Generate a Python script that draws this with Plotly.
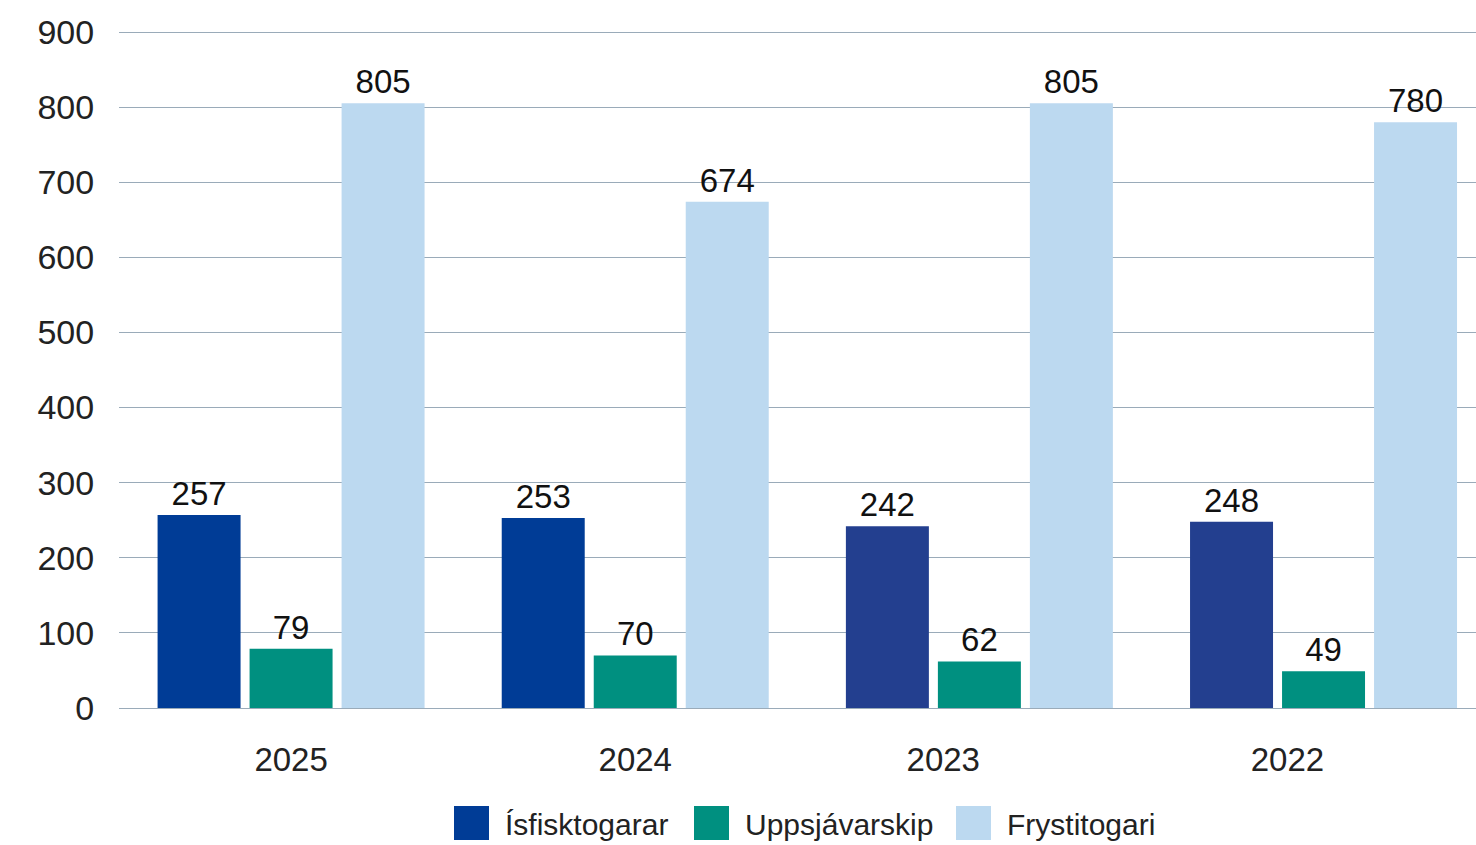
import plotly.graph_objects as go

# Ár og gildi hverrar skipategundar
years = ["2025", "2024", "2023", "2022"]
isfisk = [257, 253, 242, 248]
uppsjavar = [79, 70, 62, 49]
frysti = [805, 674, 805, 780]

# Merkimiðar x-ás (síðustu tveir liggja aðeins til vinstri í fyrirmyndinni)
tick_pos = [0, 1, 1.895, 2.895]
y_ticks = [0, 100, 200, 300, 400, 500, 600, 700, 800, 900]

series_names = ["Ísfisktogarar", "Uppsjávarskip", "Frystitogari"]
series_colors = ["#003c96", "#009080", "#bcd9f0"]

x = list(range(len(years)))
isfisk_colors = ["#003c96", "#003c96", "#233f8f", "#233f8f"]

FONT = "Liberation Sans, Arial, sans-serif"

# Teiknisvæði í punktum (til að staðsetja handgerða skýringu)
L, T, W, H = 119, 29, 1357, 679

fig = go.Figure()
for name, vals, col in zip(series_names, [isfisk, uppsjavar, frysti],
                           [isfisk_colors, series_colors[1], series_colors[2]]):
    fig.add_trace(go.Bar(
        x=x, y=vals, name=name, marker_color=col,
        text=vals, textposition="outside", cliponaxis=False, showlegend=False,
    ))

fig.update_traces(textfont=dict(size=33, color="#111111", family=FONT), marker_line_width=0)

# Skýring neðst: stórir ferningar og texti
legend_x = [454, 694, 956]
for px, name, col in zip(legend_x, series_names, series_colors):
    fig.add_shape(
        type="rect", xref="paper", yref="paper",
        x0=(px - L) / W, x1=(px + 35 - L) / W,
        y0=(T + H - 840) / H, y1=(T + H - 806) / H,
        fillcolor=col, line_width=0,
    )
    fig.add_annotation(
        xref="paper", yref="paper", x=(px + 49 - L) / W, y=(T + H - 824) / H,
        text=name, showarrow=False, xanchor="left", yanchor="middle",
        font=dict(size=30, color="#222222", family=FONT),
    )

fig.update_layout(
    width=1476, height=845,
    margin=dict(l=L, r=0, t=T, b=845 - T - H),
    paper_bgcolor="white", plot_bgcolor="white",
    barmode="group", bargap=0.198, bargroupgap=0.098,
    font=dict(family=FONT, size=34, color="#222222"),
    showlegend=False,
)
fig.update_xaxes(
    range=[-0.5, 3.443], tickvals=tick_pos, ticktext=years,
    ticks="outside", ticklen=22, tickcolor="rgba(0,0,0,0)",
    showgrid=False, zeroline=False, showline=False, automargin=False,
    tickfont=dict(size=33),
)
fig.update_yaxes(
    range=[0, 904], tickvals=y_ticks,
    showgrid=True, gridcolor="#9aabb9", gridwidth=1,
    zeroline=True, zerolinecolor="#9aabb9", zerolinewidth=1,
    ticks="outside", ticklen=17, tickcolor="rgba(0,0,0,0)", automargin=False,
    tickfont=dict(size=34),
)

fig.write_html(
    "out.html",
    config={"displayModeBar": False},
    post_script="document.body.style.margin='0';",
)
